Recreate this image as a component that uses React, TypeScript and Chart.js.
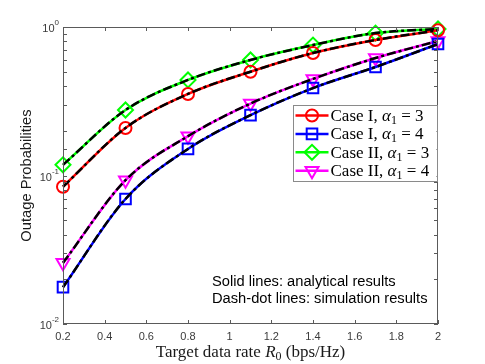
import React, { useEffect, useRef } from 'react';
import { Chart, registerables } from 'chart.js';
import { drawPoint } from 'chart.js/helpers';

Chart.register(...registerables);

// ---------- data ----------
const rates = [0.2, 0.5, 0.8, 1.1, 1.4, 1.7, 2.0];
const xTickValues = [0.2, 0.4, 0.6, 0.8, 1.0, 1.2, 1.4, 1.6, 1.8, 2.0];
const yMajorTicks = [0.01, 0.1, 1];

const anaCase1A3 = [0.084, 0.209, 0.354, 0.5, 0.668, 0.818, 0.95];
const anaCase1A4 = [0.0177, 0.0695, 0.151, 0.255, 0.388, 0.538, 0.768];
const anaCase2A3 = [0.118, 0.276, 0.44, 0.6, 0.756, 0.91, 0.97];
const anaCase2A4 = [0.0258, 0.093, 0.184, 0.305, 0.447, 0.618, 0.805];

const simCase1A3 = [0.084, 0.209, 0.354, 0.5, 0.668, 0.818, 0.95];
const simCase1A4 = [0.0177, 0.0695, 0.151, 0.255, 0.388, 0.538, 0.768];
const simCase2A3 = [0.118, 0.276, 0.44, 0.6, 0.756, 0.91, 0.97];
const simCase2A4 = [0.0258, 0.093, 0.184, 0.305, 0.447, 0.618, 0.805];

const legendCases = ['Case I', 'Case I', 'Case II', 'Case II'];
const legendAlphas = ['3', '4', '3', '4'];
const seriesColors = ['#ff0000', '#0000ff', '#00ff00', '#ff00ff'];
const seriesStyles = ['circle', 'rect', 'rectRot', 'triangle'];
const seriesRotations = [0, 0, 0, 180];
const seriesRadius = [6, 7.5, 7.5, 7.5];

const annotationLines = ['Solid lines: analytical results', 'Dash-dot lines: simulation results'];
const yTitle = 'Outage Probabilities';

const SANS = "'Liberation Sans', Arial, Helvetica, sans-serif";
const SERIF = "'Liberation Serif', 'DejaVu Serif', 'Times New Roman', serif";

type Seg = { t: string; font: string; dy?: number };

function richWidth(ctx: CanvasRenderingContext2D, segs: Seg[]) {
  let w = 0;
  for (const s of segs) {
    ctx.font = s.font;
    w += ctx.measureText(s.t).width;
  }
  return w;
}

function drawRich(ctx: CanvasRenderingContext2D, segs: Seg[], x: number, y: number) {
  let cx = x;
  ctx.textBaseline = 'alphabetic';
  ctx.textAlign = 'left';
  for (const s of segs) {
    ctx.font = s.font;
    ctx.fillText(s.t, cx, y + (s.dy || 0));
    cx += ctx.measureText(s.t).width;
  }
}

const decorPlugin = {
  id: 'decor',
  afterDatasetsDraw(chart: any) {
    const ctx: CanvasRenderingContext2D = chart.ctx;
    const { left, right, top, bottom } = chart.chartArea;
    const xs = chart.scales.x;
    const ys = chart.scales.y;
    ctx.save();

    // frame
    ctx.strokeStyle = '#5a5a5a';
    ctx.lineWidth = 1;
    ctx.strokeRect(left + 0.5, top + 0.5, right - left - 1, bottom - top - 1);

    // inward ticks
    const tl = 4;
    ctx.beginPath();
    for (const t of xs.ticks) {
      const px = Math.round(xs.getPixelForValue(t.value)) + 0.5;
      ctx.moveTo(px, bottom);
      ctx.lineTo(px, bottom - tl);
      ctx.moveTo(px, top);
      ctx.lineTo(px, top + tl);
    }
    for (const t of ys.ticks) {
      const py = Math.round(ys.getPixelForValue(t.value)) + 0.5;
      ctx.moveTo(left, py);
      ctx.lineTo(left + tl, py);
      ctx.moveTo(right, py);
      ctx.lineTo(right - tl, py);
    }
    ctx.stroke();

    // y tick labels (10^n)
    ctx.fillStyle = '#3a3a3a';
    for (const v of yMajorTicks) {
      const py = ys.getPixelForValue(v);
      const exp = String(Math.round(Math.log10(v)));
      ctx.font = `8px ${SANS}`;
      const ew = ctx.measureText(exp).width;
      const xr = left - 4;
      ctx.textAlign = 'right';
      ctx.textBaseline = 'middle';
      ctx.fillText(exp, xr, py - 4);
      ctx.font = `11px ${SANS}`;
      ctx.fillText('10', xr - ew, py + 2);
    }

    // y axis title
    ctx.save();
    ctx.translate(27, (top + bottom) / 2);
    ctx.rotate(-Math.PI / 2);
    ctx.font = `14.7px ${SANS}`;
    ctx.fillStyle = '#1a1a1a';
    ctx.textAlign = 'center';
    ctx.textBaseline = 'middle';
    ctx.fillText(yTitle, 0, 0);
    ctx.restore();

    // x axis title
    const xt: Seg[] = [
      { t: 'Target data rate ', font: `17px ${SERIF}` },
      { t: 'R', font: `italic 17px ${SERIF}` },
      { t: '0', font: `12px ${SERIF}`, dy: 3 },
      { t: ' (bps/Hz)', font: `17px ${SERIF}` },
    ];
    ctx.fillStyle = '#1a1a1a';
    const xtw = richWidth(ctx, xt);
    drawRich(ctx, xt, (left + right) / 2 - xtw / 2, bottom + 33);

    // annotations
    ctx.fillStyle = '#000';
    ctx.font = `14.7px ${SANS}`;
    ctx.textAlign = 'left';
    ctx.textBaseline = 'middle';
    annotationLines.forEach((line, i) => {
      ctx.fillText(line, left + 149, top + 255 + i * 16.5);
    });

    // legend
    const legendSets = chart.data.datasets.filter((d: any) => d.inLegend);
    const rowH = 18.4;
    const bx = right - 145.5;
    const bw = 144;
    const by = top + 78;
    const bh = 76;
    ctx.fillStyle = '#ffffff';
    ctx.fillRect(bx, by, bw, bh);
    ctx.strokeStyle = '#8a8a8a';
    ctx.lineWidth = 1;
    ctx.strokeRect(Math.round(bx) + 0.5, Math.round(by) + 0.5, bw, bh);
    legendSets.forEach((d: any, i: number) => {
      const cy = by + 10.5 + rowH * i;
      const x0 = bx + 3;
      const x1 = bx + 36;
      ctx.strokeStyle = d.borderColor;
      ctx.lineWidth = d.borderWidth;
      ctx.setLineDash([]);
      ctx.beginPath();
      ctx.moveTo(x0, cy);
      ctx.lineTo(x1, cy);
      ctx.stroke();
      ctx.fillStyle = 'rgba(0,0,0,0)';
      ctx.strokeStyle = d.pointBorderColor;
      ctx.lineWidth = d.pointBorderWidth;
      drawPoint(ctx, {
        pointStyle: d.pointStyle,
        rotation: d.pointRotation,
        radius: d.pointRadius,
        borderWidth: d.pointBorderWidth,
      } as any, (x0 + x1) / 2, cy);
      ctx.fillStyle = '#000';
      const segs: Seg[] = [
        { t: d.caseName + ', ', font: `17px ${SERIF}` },
        { t: 'α', font: `italic 17px ${SERIF}` },
        { t: '1', font: `12px ${SERIF}`, dy: 3 },
        { t: ' = ' + d.alpha, font: `17px ${SERIF}` },
      ];
      drawRich(ctx, segs, x1 + 2, cy + 5.5);
    });

    ctx.restore();
  },
};

export default function App() {
  const ref = useRef<HTMLCanvasElement | null>(null);

  useEffect(() => {
    if (!ref.current) return;
    const ana = [anaCase1A3, anaCase1A4, anaCase2A3, anaCase2A4];
    const sim = [simCase1A3, simCase1A4, simCase2A3, simCase2A4];

    const simSets = sim.map((vals) => ({
      label: 'simulation',
      data: rates.map((r, i) => ({ x: r, y: vals[i] })),
      borderColor: '#000000',
      borderWidth: 2.5,
      borderDash: [9, 3, 3, 3],
      pointRadius: 0,
      cubicInterpolationMode: 'monotone',
      clip: false,
      inLegend: false,
    }));
    const anaSets = ana.map((vals, k) => ({
      label: `${legendCases[k]}, α1 = ${legendAlphas[k]}`,
      caseName: legendCases[k],
      alpha: legendAlphas[k],
      data: rates.map((r, i) => ({ x: r, y: vals[i] })),
      borderColor: seriesColors[k],
      borderWidth: 2.5,
      pointStyle: seriesStyles[k],
      pointRotation: seriesRotations[k],
      pointRadius: seriesRadius[k],
      pointBorderWidth: 2,
      pointBorderColor: seriesColors[k],
      pointBackgroundColor: 'rgba(0,0,0,0)',
      cubicInterpolationMode: 'monotone',
      clip: false,
      inLegend: true,
    }));

    const chart = new Chart(ref.current, {
      type: 'line',
      data: { datasets: [...simSets, ...anaSets] as any },
      options: {
        responsive: false,
        animation: false,
        devicePixelRatio: 1,
        layout: { padding: { top: 27, right: 47, left: 0, bottom: 0 }, autoPadding: false },
        plugins: { legend: { display: false }, tooltip: { enabled: false } },
        scales: {
          x: {
            type: 'linear',
            min: 0.2,
            max: 2,
            afterBuildTicks: (scale: any) => {
              scale.ticks = xTickValues.map((v) => ({ value: v }));
            },
            afterFit: (scale: any) => {
              scale.height = 40;
            },
            grid: { display: false, drawTicks: false },
            border: { display: false },
            ticks: {
              padding: 6,
              maxRotation: 0,
              autoSkip: false,
              color: '#3a3a3a',
              font: { family: SANS, size: 11 },
              callback: (v: any) => String(Math.round(Number(v) * 10) / 10),
            },
          },
          y: {
            type: 'logarithmic',
            min: 0.01,
            max: 1,
            afterFit: (scale: any) => {
              scale.width = 63;
            },
            grid: { display: false, drawTicks: false },
            border: { display: false },
            ticks: { display: false },
          },
        },
      },
      plugins: [decorPlugin],
    });
    return () => chart.destroy();
  }, []);

  return (
    <div style={{ position: 'absolute', left: 0, top: 0, width: 485, height: 364, background: '#fff' }}>
      <canvas ref={ref} width={485} height={364} style={{ width: 485, height: 364, display: 'block' }} />
    </div>
  );
}
